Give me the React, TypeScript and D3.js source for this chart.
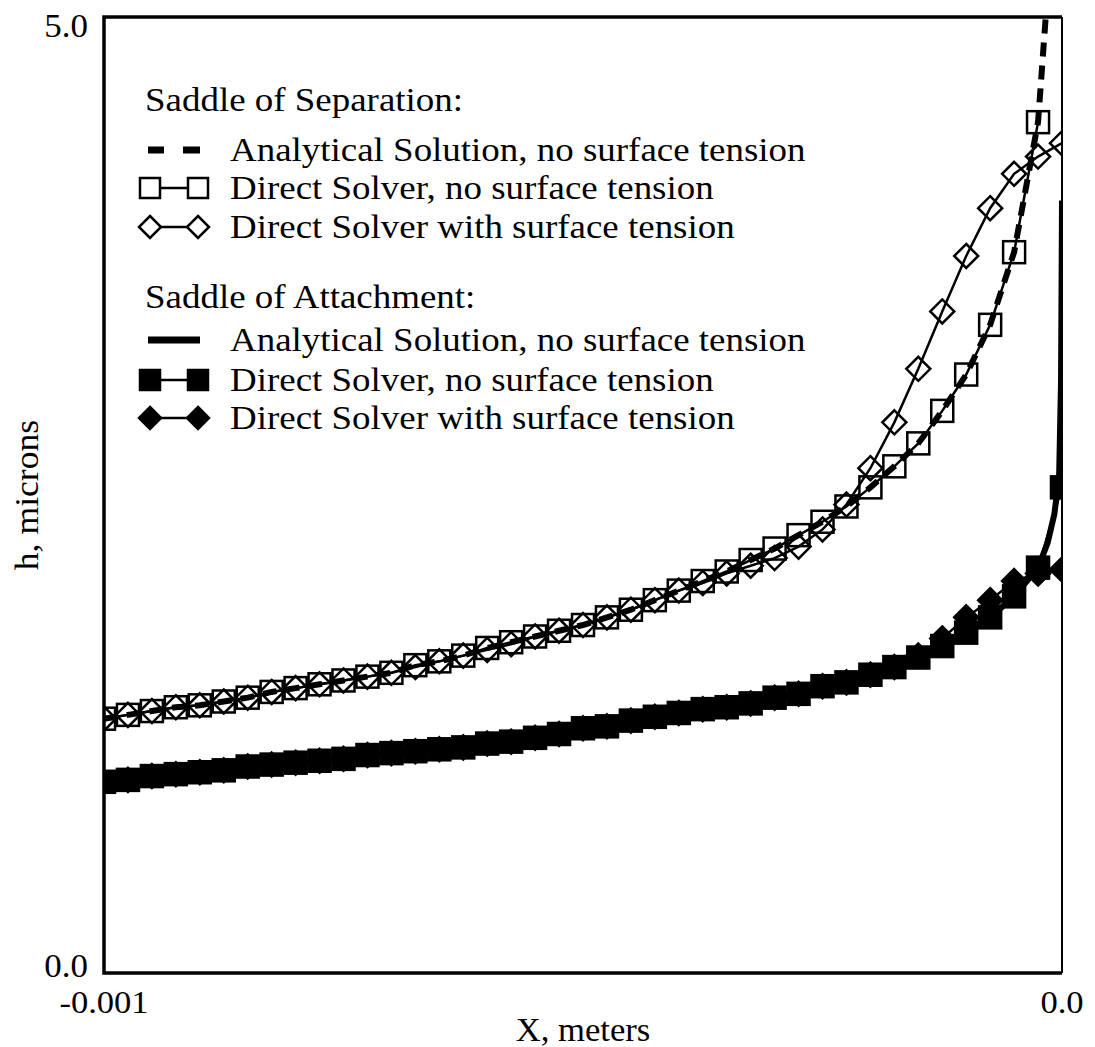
import { useEffect, useRef } from "react";
import * as d3 from "d3";

// x positions of the solver points (metres)
const xGrid = [
  -0.001, -0.000975, -0.00095, -0.000925, -0.0009, -0.000875, -0.00085, -0.000825, -0.0008, -0.000775,
  -0.00075, -0.000725, -0.0007, -0.000675, -0.00065, -0.000625, -0.0006, -0.000575, -0.00055, -0.000525,
  -0.0005, -0.000475, -0.00045, -0.000425, -0.0004, -0.000375, -0.00035, -0.000325, -0.0003, -0.000275,
  -0.00025, -0.000225, -0.0002, -0.000175, -0.00015, -0.000125, -0.0001, -0.000075, -0.00005, -0.000025, 0,
];

// Saddle of separation
const sepDirectH = [
  1.33, 1.35, 1.37, 1.39, 1.4, 1.42, 1.44, 1.47, 1.49, 1.51,
  1.53, 1.55, 1.57, 1.61, 1.63, 1.66, 1.7, 1.73, 1.76, 1.79,
  1.82, 1.86, 1.9, 1.95, 2.0, 2.05, 2.1, 2.16, 2.22, 2.29,
  2.36, 2.44, 2.54, 2.65, 2.77, 2.94, 3.13, 3.39, 3.77, 4.45,
];
const sepTensionH = [
  1.33, 1.35, 1.37, 1.39, 1.4, 1.42, 1.44, 1.47, 1.49, 1.51,
  1.53, 1.55, 1.57, 1.6, 1.63, 1.66, 1.69, 1.72, 1.76, 1.79,
  1.82, 1.86, 1.9, 1.95, 2.0, 2.04, 2.09, 2.13, 2.17, 2.23,
  2.32, 2.45, 2.64, 2.88, 3.16, 3.46, 3.75, 4.0, 4.18, 4.27, 4.34,
];
const sepAnalyticX = [...xGrid.slice(0, 40), -0.000017, -0.00001];
const sepAnalyticH = [
  1.33, 1.35, 1.37, 1.39, 1.4, 1.42, 1.44, 1.47, 1.49, 1.51,
  1.53, 1.55, 1.57, 1.61, 1.63, 1.66, 1.7, 1.73, 1.76, 1.79,
  1.82, 1.86, 1.9, 1.95, 2.0, 2.05, 2.1, 2.16, 2.22, 2.29,
  2.36, 2.44, 2.54, 2.65, 2.77, 2.94, 3.13, 3.39, 3.77, 4.45, 5.0, 5.8,
];

// Saddle of attachment
const attDirectH = [
  1.0, 1.01, 1.03, 1.04, 1.05, 1.06, 1.08, 1.09, 1.1, 1.11,
  1.12, 1.14, 1.15, 1.16, 1.17, 1.18, 1.2, 1.21, 1.23, 1.25,
  1.28, 1.29, 1.32, 1.34, 1.36, 1.38, 1.39, 1.41, 1.44, 1.46,
  1.5, 1.52, 1.56, 1.6, 1.65, 1.71, 1.78, 1.86, 1.97, 2.12, 2.54,
];
const attTensionH = [
  1.0, 1.01, 1.03, 1.04, 1.05, 1.06, 1.08, 1.09, 1.1, 1.11,
  1.12, 1.14, 1.15, 1.16, 1.17, 1.18, 1.2, 1.21, 1.23, 1.25,
  1.28, 1.29, 1.32, 1.34, 1.36, 1.38, 1.39, 1.41, 1.44, 1.46,
  1.5, 1.52, 1.56, 1.6, 1.66, 1.75, 1.86, 1.95, 2.05, 2.09, 2.11,
];
const attAnalyticX = [...xGrid.slice(0, 40), -0.000015, -0.000008, -0.000003, -0.000001, 0];
const attAnalyticH = [
  1.0, 1.01, 1.03, 1.04, 1.05, 1.06, 1.08, 1.09, 1.1, 1.11,
  1.12, 1.14, 1.15, 1.16, 1.17, 1.18, 1.2, 1.21, 1.23, 1.25,
  1.28, 1.29, 1.32, 1.34, 1.36, 1.38, 1.39, 1.41, 1.44, 1.46,
  1.5, 1.52, 1.56, 1.6, 1.65, 1.71, 1.78, 1.86, 1.97, 2.12,
  2.25, 2.4, 2.6, 3.1, 4.04,
];

const xTicks = [-0.001, 0];
const yTicks = [0, 5];

const FONT = "'Liberation Serif', 'Times New Roman', serif";
const SX = 1.12; // scanned text is a little wide

export default function App() {
  const svgRef = useRef<SVGSVGElement>(null);

  useEffect(() => {
    if (!svgRef.current) return;
    const svg = d3.select(svgRef.current);
    svg.selectAll("*").remove();

    const L = 104, R = 1062, T = 17, B = 973;
    const x = d3.scaleLinear().domain([-0.001, 0]).range([L, R]);
    const y = d3.scaleLinear().domain([0, 5]).range([B, T]);

    svg.append("defs").append("clipPath").attr("id", "plotclip")
      .append("rect").attr("x", L).attr("y", T).attr("width", R - L).attr("height", B - T);

    const g = svg.append("g").attr("clip-path", "url(#plotclip)");
    const line = d3.line<[number, number]>().x((d) => x(d[0])).y((d) => y(d[1]));
    const pts = (xs: number[], hs: number[]) => hs.map((h, i) => [xs[i], h] as [number, number]);

    // lines
    g.append("path").datum(pts(xGrid, sepDirectH)).attr("d", line)
      .attr("fill", "none").attr("stroke", "#000").attr("stroke-width", 2.5);
    g.append("path").datum(pts(xGrid, sepTensionH)).attr("d", line)
      .attr("fill", "none").attr("stroke", "#000").attr("stroke-width", 2.5);
    g.append("path").datum(pts(sepAnalyticX, sepAnalyticH)).attr("d", line)
      .attr("fill", "none").attr("stroke", "#000").attr("stroke-width", 6)
      .attr("stroke-dasharray", "14,9");
    g.append("path").datum(pts(xGrid, attTensionH)).attr("d", line)
      .attr("fill", "none").attr("stroke", "#000").attr("stroke-width", 2.5);
    g.append("path").datum(pts(xGrid, attDirectH)).attr("d", line)
      .attr("fill", "none").attr("stroke", "#000").attr("stroke-width", 2.5);
    g.append("path").datum(pts(attAnalyticX, attAnalyticH)).attr("d", line)
      .attr("fill", "none").attr("stroke", "#000").attr("stroke-width", 6);

    const squares = (data: [number, number][], fill: string, s = 22) =>
      g.append("g").selectAll("rect").data(data).join("rect")
        .attr("x", (d) => x(d[0]) - s / 2).attr("y", (d) => y(d[1]) - s / 2)
        .attr("width", s).attr("height", s)
        .attr("fill", fill).attr("stroke", "#000").attr("stroke-width", 2.5);
    const diamonds = (data: [number, number][], fill: string, s = 12) =>
      g.append("g").selectAll("path").data(data).join("path")
        .attr("d", (d) => {
          const cx = x(d[0]), cy = y(d[1]);
          return `M${cx},${cy - s}L${cx + s},${cy}L${cx},${cy + s}L${cx - s},${cy}Z`;
        })
        .attr("fill", fill).attr("stroke", "#000").attr("stroke-width", 2.5);

    squares(pts(xGrid, sepDirectH), "none");
    diamonds(pts(xGrid, sepTensionH), "none");
    squares(pts(xGrid, attDirectH), "#000");
    diamonds(pts(xGrid, attTensionH), "#000");

    // frame
    svg.append("path")
      .attr("d", `M${R},${T}L${L},${T}L${L},${B}L${R},${B}`)
      .attr("fill", "none").attr("stroke", "#000").attr("stroke-width", 3.5);
    svg.append("line").attr("x1", R).attr("x2", R).attr("y1", T).attr("y2", B)
      .attr("stroke", "#000").attr("stroke-width", 2);

    const txt = (s: string, tx: number, ty: number, size: number, anchor = "start", sx = SX) =>
      svg.append("text")
        .attr("transform", `translate(${tx},${ty}) scale(${sx},1)`)
        .attr("text-anchor", anchor)
        .attr("font-family", FONT).attr("font-size", size).attr("fill", "#000")
        .text(s);

    // tick labels
    yTicks.forEach((v) => txt(v.toFixed(1), L - 16, v === 0 ? 977 : y(v) + 20, 33, "end", 1.06));
    xTicks.forEach((v) => txt(v === 0 ? "0.0" : String(v), x(v), B + 40, 32, "middle", 1.08));

    // axis titles
    txt("X, meters", (L + R) / 2, 1041, 33, "middle", 1.05);
    svg.append("text")
      .attr("transform", `translate(38,${(T + B) / 2}) rotate(-90) scale(1.08,1)`)
      .attr("text-anchor", "middle")
      .attr("font-family", FONT).attr("font-size", 33).attr("fill", "#000")
      .text("h, microns");

    // legend
    const lg = svg.append("g");
    const s1 = 150, s2 = 198, tx = 230;
    txt("Saddle of Separation:", 145, 111, 33);
    txt("Saddle of Attachment:", 145, 308, 33);
    const rows = [
      { cy: 150, label: "Analytical Solution, no surface tension", kind: "dash" },
      { cy: 188, label: "Direct Solver, no surface tension", kind: "osq" },
      { cy: 227, label: "Direct Solver with surface tension", kind: "odia" },
      { cy: 340, label: "Analytical Solution, no surface tension", kind: "solid" },
      { cy: 380, label: "Direct Solver, no surface tension", kind: "fsq" },
      { cy: 418, label: "Direct Solver with surface tension", kind: "fdia" },
    ];
    rows.forEach((r) => {
      txt(r.label, tx, r.cy + 11, 33);
      if (r.kind === "dash") {
        lg.append("line").attr("x1", s1 - 2).attr("x2", s1 + 14).attr("y1", r.cy).attr("y2", r.cy)
          .attr("stroke", "#000").attr("stroke-width", 7);
        lg.append("line").attr("x1", s2 - 15).attr("x2", s2 + 2).attr("y1", r.cy).attr("y2", r.cy)
          .attr("stroke", "#000").attr("stroke-width", 7);
        return;
      }
      if (r.kind === "solid") {
        lg.append("line").attr("x1", s1 - 2).attr("x2", s2 + 2).attr("y1", r.cy).attr("y2", r.cy)
          .attr("stroke", "#000").attr("stroke-width", 7);
        return;
      }
      lg.append("line").attr("x1", s1).attr("x2", s2).attr("y1", r.cy).attr("y2", r.cy)
        .attr("stroke", "#000").attr("stroke-width", 2.5);
      const fill = r.kind.startsWith("f") ? "#000" : "#fff";
      [s1, s2].forEach((cx) => {
        if (r.kind.endsWith("sq")) {
          lg.append("rect").attr("x", cx - 10).attr("y", r.cy - 10).attr("width", 20).attr("height", 20)
            .attr("fill", fill).attr("stroke", "#000").attr("stroke-width", 2.5);
        } else {
          const s = 11;
          lg.append("path")
            .attr("d", `M${cx},${r.cy - s}L${cx + s},${r.cy}L${cx},${r.cy + s}L${cx - s},${r.cy}Z`)
            .attr("fill", fill).attr("stroke", "#000").attr("stroke-width", 2.5);
        }
      });
    });
  }, []);

  return (
    <svg
      ref={svgRef}
      width={1095}
      height={1047}
      style={{ position: "absolute", left: 0, top: 0, background: "#fff" }}
    />
  );
}
